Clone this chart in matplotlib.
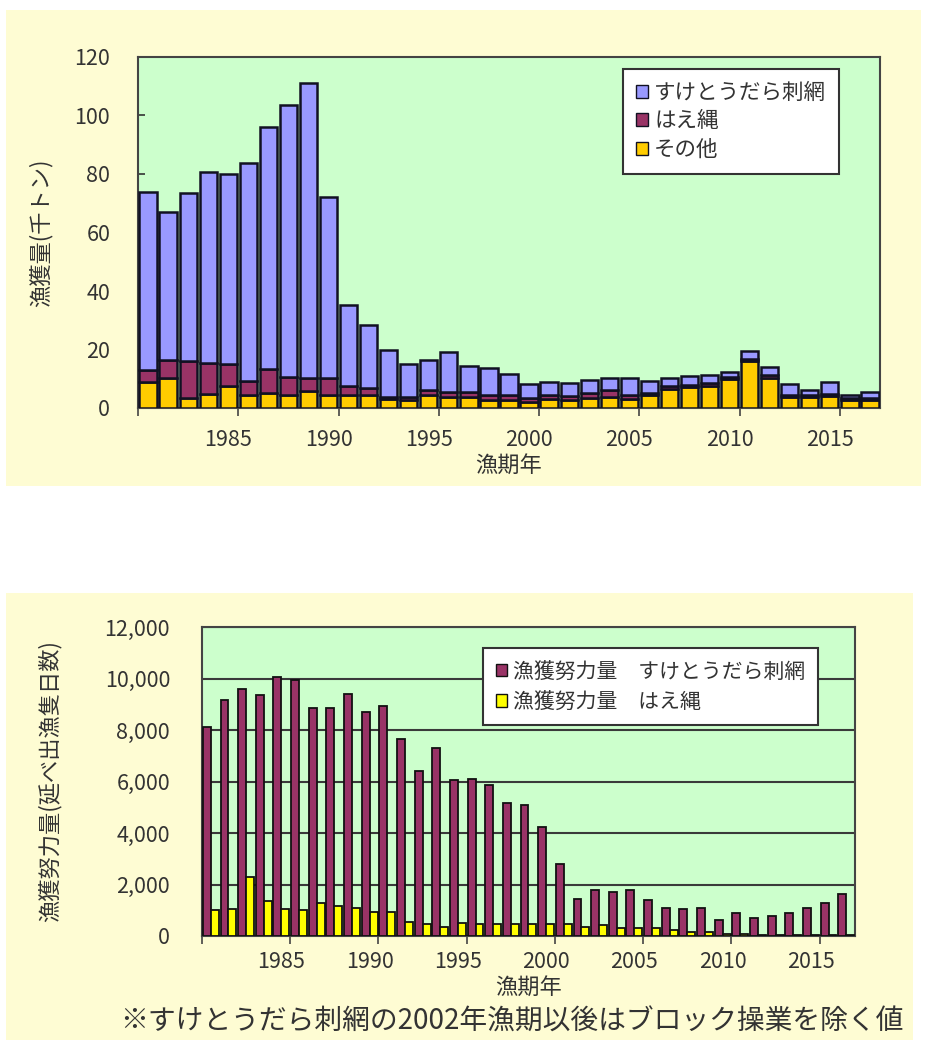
import matplotlib
matplotlib.use('Agg')
import matplotlib.pyplot as plt
from matplotlib.patches import Patch, Rectangle
from matplotlib.ticker import FuncFormatter, MultipleLocator
import numpy as np

plt.rcParams['font.family'] = ['Noto Sans CJK JP', 'DejaVu Sans']
TEXT = '#333333'

years = list(range(1981, 2018))

# 漁獲量（千トン）: 漁業種類別
catch_gillnet = [60.8, 50.7, 57.3, 65.4, 65.2, 74.6, 82.7, 93.0, 100.8, 61.9,
                 27.6, 21.5, 16.0, 11.3, 10.4, 13.6, 8.8, 9.2, 7.0, 4.8,
                 4.3, 4.5, 4.7, 4.1, 5.6, 4.3, 2.7, 2.8, 2.8, 1.7,
                 2.5, 2.7, 3.6, 1.7, 4.2, 1.2, 1.9]
catch_longline = [4.1, 6.1, 12.7, 10.5, 7.3, 4.8, 8.4, 6.4, 4.5, 5.7,
                  3.0, 2.4, 0.6, 0.7, 1.4, 1.9, 1.9, 2.0, 1.7, 1.4,
                  1.4, 1.4, 1.6, 2.3, 1.4, 0.7, 0.9, 0.9, 0.9, 0.8,
                  0.8, 0.9, 0.9, 0.9, 0.8, 0.6, 0.7]
catch_other = [8.8, 10.2, 3.4, 4.8, 7.6, 4.3, 5.1, 4.3, 5.7, 4.5,
               4.6, 4.5, 3.1, 2.9, 4.6, 3.7, 3.7, 2.6, 2.8, 2.0,
               3.1, 2.6, 3.4, 3.7, 3.1, 4.3, 6.5, 7.1, 7.6, 9.9,
               16.1, 10.4, 3.7, 3.7, 4.0, 2.8, 2.8]
catch_labels = ['すけとうだら刺網', 'はえ縄', 'その他']

# 漁獲努力量（延べ出漁隻日数）
effort_gillnet = [8100, 9150, 9600, 9350, 10050, 9950, 8850, 8850, 9400, 8700,
                  8950, 7650, 6400, 7300, 6050, 6100, 5850, 5150, 5100, 4250,
                  2800, 1450, 1770, 1700, 1770, 1400, 1080, 1030, 1080, 640,
                  880, 700, 760, 880, 1080, 1270, 1640]
effort_longline = [1000, 1050, 2300, 1350, 1050, 1000, 1270, 1180, 1070, 950,
                   950, 550, 450, 360, 520, 480, 480, 470, 470, 470,
                   450, 350, 420, 330, 300, 300, 220, 160, 170, 80,
                   60, 50, 50, 50, 50, 50, 50]
effort_labels = ['漁獲努力量\u3000すけとうだら刺網', '漁獲努力量\u3000はえ縄']

label_years = [1985, 1990, 1995, 2000, 2005, 2010, 2015]

W, H = 933, 1044
fig = plt.figure(figsize=(W / 100, H / 100), dpi=100, facecolor='white')


def fx(px):
    return px / W


def fy(py):
    return 1 - py / H


# light yellow panels behind each chart
for x0, y0, x1, y1 in [(6, 10, 921, 486), (6, 593, 913, 1040)]:
    fig.patches.append(Rectangle((fx(x0), fy(y1)), fx(x1 - x0), (y1 - y0) / H,
                                 transform=fig.transFigure, facecolor='#FEFCD3',
                                 edgecolor='none', zorder=-5))


def style_year_axis(ax, pad):
    ax.set_xlim(years[0] - 0.5, years[-1] + 0.5)
    ax.set_xticks(label_years)
    ax.set_xticklabels([str(y) for y in label_years])
    ax.set_xticks(np.arange(years[0] - 0.5, years[-1] + 0.6, 5), minor=True)
    ax.tick_params(axis='x', which='major', length=0, pad=pad, labelsize=15.5, colors=TEXT)
    ax.tick_params(axis='x', which='minor', length=6, width=1.2, direction='out', color='#444444')
    for s in ax.spines.values():
        s.set_color('#444444')
        s.set_linewidth(1.5)


def style_legend(leg):
    leg.get_frame().set_edgecolor('#333333')
    leg.get_frame().set_linewidth(1.5)
    for t in leg.get_texts():
        t.set_color(TEXT)


# ---- 漁獲量 ----
ax1 = fig.add_axes([fx(138), fy(408), fx(880 - 138), (408 - 57) / H])
ax1.set_facecolor('#CCFFCC')
edge = dict(edgecolor='#111122', linewidth=1.8, width=0.86, zorder=3)
ax1.bar(years, catch_other, color='#FFCC00', **edge)
base2 = np.array(catch_other)
ax1.bar(years, catch_longline, bottom=base2, color='#993366', **edge)
base3 = base2 + np.array(catch_longline)
ax1.bar(years, catch_gillnet, bottom=base3, color='#9999FF', **edge)
ax1.set_ylim(0, 120)
ax1.yaxis.set_major_locator(MultipleLocator(20))
ax1.tick_params(axis='y', length=5, width=1.2, direction='in', labelsize=15.5,
                colors=TEXT, pad=20)
style_year_axis(ax1, 15)
ax1.set_ylabel('漁獲量(千トン)', fontsize=16, color=TEXT, labelpad=16)
ax1.set_xlabel('漁期年', fontsize=16, color=TEXT, labelpad=2)

handles = [Patch(facecolor=c, edgecolor='#111122', label=l)
           for c, l in zip(['#9999FF', '#993366', '#FFCC00'], catch_labels)]
leg1 = ax1.legend(handles=handles, loc='upper left',
                  bbox_to_anchor=(fx(623), fy(69)), bbox_transform=fig.transFigure,
                  fontsize=15.5, frameon=True, fancybox=False, handlelength=0.55,
                  handleheight=0.55, handletextpad=0.3, labelspacing=0.3,
                  borderpad=0.6, borderaxespad=0, framealpha=1)
style_legend(leg1)

# ---- 漁獲努力量 ----
ax2 = fig.add_axes([fx(202), fy(936), fx(855 - 202), (936 - 627) / H])
ax2.set_facecolor('#CCFFCC')
yr = np.array(years)
bw = 0.45
ax2.bar(yr - bw / 2, effort_gillnet, width=bw, color='#993366',
        edgecolor='#111111', linewidth=1.3, zorder=3)
ax2.bar(yr + bw / 2, effort_longline, width=bw, color='#FFFF00',
        edgecolor='#111111', linewidth=1.3, zorder=3)
ax2.set_ylim(0, 12000)
ax2.yaxis.set_major_locator(MultipleLocator(2000))
ax2.yaxis.set_major_formatter(FuncFormatter(lambda v, p: f'{int(v):,}'))
ax2.grid(axis='y', color='#3a3a3a', linewidth=1.5, zorder=1)
ax2.set_axisbelow(True)
ax2.tick_params(axis='y', length=0, labelsize=15.5, colors=TEXT, pad=23)
style_year_axis(ax2, 11)
ax2.set_ylabel('漁獲努力量(延べ出漁隻日数)', fontsize=16, color=TEXT, labelpad=31)
ax2.set_xlabel('漁期年', fontsize=16, color=TEXT, labelpad=2)

handles2 = [Patch(facecolor=c, edgecolor='#111111', label=l)
            for c, l in zip(['#993366', '#FFFF00'], effort_labels)]
leg2 = ax2.legend(handles=handles2, loc='upper left',
                  bbox_to_anchor=(fx(483), fy(648)), bbox_transform=fig.transFigure,
                  fontsize=15, frameon=True, fancybox=False, handlelength=0.55,
                  handleheight=0.55, handletextpad=0.3, labelspacing=0.4,
                  borderpad=0.6, borderaxespad=0, framealpha=1)
style_legend(leg2)

fig.text(fx(512), fy(1022), '※すけとうだら刺網の2002年漁期以後はブロック操業を除く値',
         ha='center', va='center', fontsize=20, color=TEXT)

fig.savefig('out.png', dpi=100, facecolor='white')
